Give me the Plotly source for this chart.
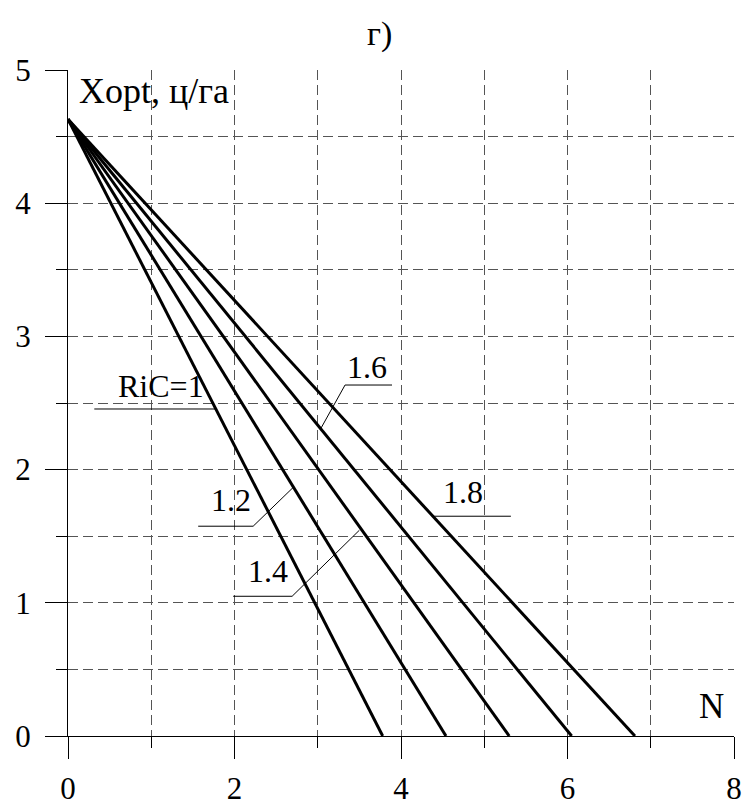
import plotly.graph_objects as go

# Fan of optimal-dose lines: common intercept on the X axis, N-intercepts per RiC
x_opt_0 = 4.63
ric_labels = ["RiC=1", "1.2", "1.4", "1.6", "1.8"]
n_intercepts = [3.78, 4.54, 5.30, 6.05, 6.81]

x_ticks = [0, 2, 4, 6, 8]
y_ticks = [0, 1, 2, 3, 4, 5]

FONT = "Liberation Serif"

fig = go.Figure()

for lab, n0 in zip(ric_labels, n_intercepts):
    fig.add_trace(go.Scatter(
        x=[0, n0], y=[x_opt_0, 0], mode="lines",
        line=dict(color="black", width=3), name=lab,
        showlegend=False, hoverinfo="skip"))

# Callout labels: text position, underline, optional leader to its line
callouts = [
    ("RiC=1", 1.12, 2.624, (0.316, 1.776, 2.455), None),
    ("1.2", 1.96, 1.774, (1.564, 2.224, 1.575), ("right", 2.708, 1.868)),
    ("1.4", 2.40, 1.240, (1.984, 2.692, 1.049), ("right", 3.50, 1.545)),
    ("1.6", 3.586, 2.774, (3.328, 3.892, 2.635), ("left", 3.040, 2.312)),
    ("1.8", 4.744, 1.835, (4.383, 5.320, 1.650), None),
]

for text, tx, ty, (u0, u1, uy), leader in callouts:
    xs, ys = [u0, u1], [uy, uy]
    if leader is not None:
        side, lx, ly = leader
        if side == "right":
            xs, ys = [u0, u1, lx], [uy, uy, ly]
        else:
            xs, ys = [lx, u0, u1], [ly, uy, uy]
    fig.add_trace(go.Scatter(
        x=xs, y=ys, mode="lines", line=dict(color="black", width=1),
        showlegend=False, hoverinfo="skip"))
    fig.add_annotation(x=tx, y=ty, text=text, showarrow=False,
                       xanchor="center", yanchor="middle",
                       font=dict(family=FONT, size=32, color="black"))

fig.add_annotation(x=0.11, y=4.84, text="Xopt, ц/га", showarrow=False,
                   xanchor="left", yanchor="middle",
                   font=dict(family=FONT, size=36, color="black"))
fig.add_annotation(x=7.73, y=0.22, text="N", showarrow=False,
                   xanchor="center", yanchor="middle",
                   font=dict(family=FONT, size=35, color="black"))
fig.add_annotation(x=0.467, xref="paper", y=1.0, yref="paper", yshift=36,
                   text="г)", showarrow=False,
                   xanchor="center", yanchor="middle",
                   font=dict(family=FONT, size=34, color="black"))

grid_color = "#555555"
axis_common = dict(
    showline=True, linecolor="black", linewidth=1,
    showgrid=True, gridcolor=grid_color, gridwidth=1, griddash="10px,5px",
    zeroline=False, ticks="outside", tickcolor="black", tickwidth=1,
    ticklen=22, automargin=False,
    tickfont=dict(family=FONT, size=31, color="black"),
)

fig.update_xaxes(
    range=[0, 8], tickvals=x_ticks, ticktext=[str(v) for v in x_ticks],
    ticklabelstandoff=3,
    minor=dict(dtick=1, ticklen=11, tickcolor="black", ticks="outside",
               showgrid=True, gridcolor=grid_color, griddash="10px,5px"),
    **axis_common)
fig.update_yaxes(
    range=[0, 5], tickvals=y_ticks, ticktext=[str(v) for v in y_ticks],
    ticklabelstandoff=8,
    minor=dict(dtick=0.5, ticklen=11, tickcolor="black", ticks="outside",
               showgrid=True, gridcolor=grid_color, griddash="10px,5px"),
    **axis_common)

fig.update_layout(
    template="none",
    font=dict(family=FONT, size=31, color="black"),
    width=745, height=801,
    margin=dict(l=68, r=11, t=70, b=65, pad=0),
    plot_bgcolor="white", paper_bgcolor="white",
    showlegend=False,
)

fig.write_html("out.html")
